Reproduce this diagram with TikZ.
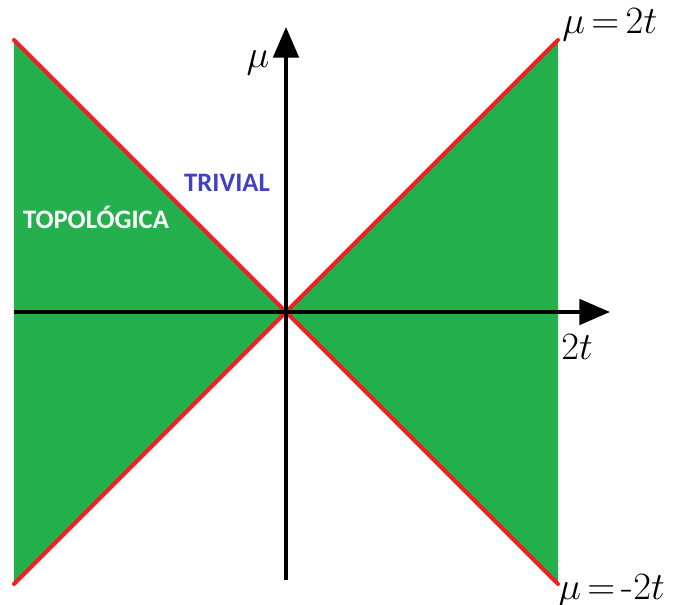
\RequirePackage{fix-cm}
\documentclass[tikz,border=0pt]{standalone}
\usepackage{fontspec}
\newfontfamily\labelfont{Carlito}
\usetikzlibrary{arrows.meta}
\definecolor{fasegreen}{RGB}{36,176,76}
\definecolor{bordered}{RGB}{238,32,36}
\definecolor{trivblue}{RGB}{64,64,200}
\begin{document}
\begin{tikzpicture}[
    x=0.75pt, y=0.75pt,
    every node/.style={font=\fontsize{29}{32}\selectfont},
    axisline/.style={line width=3pt, -{Triangle[length=23pt, width=19pt]}},
    phasefill/.style={fill=fasegreen},
    borderline/.style={bordered, line width=3pt, line cap=round},
    phaselabel/.style={font=\labelfont\bfseries\fontsize{20}{22}\selectfont}
]
\def\L{272}
\useasboundingbox (-286,-293) rectangle (388,312);

% regiones topologicas
\foreach \s in {-1,1}{
  \fill[phasefill] (0,0) -- (\s*\L,\L) -- (\s*\L,-\L) -- cycle;
}
\coordinate (ul) at (-\L,\L);
\coordinate (ur) at (\L,\L);
\coordinate (ll) at (-\L,-\L);
\coordinate (lr) at (\L,-\L);
\draw[borderline] (ul) -- (lr);
\draw[borderline] (ll) -- (ur);

% ejes
\coordinate (xstart) at (-\L,0);
\coordinate (xend) at (324,0);
\coordinate (ystart) at (0,-268);
\coordinate (yend) at (0,285);
\draw[axisline] (xstart) -- (xend);
\draw[axisline] (ystart) -- (yend);

\node (mulabel) at (-28,249) {$\mu$};
\node (tlabel) at (291,-35) {$2t$};
\node[anchor=south west, inner sep=0pt] (upper) at (276,271) {$\mu\,{=}\,2t$};
\node[anchor=north west, inner sep=0pt] (lower) at (272,-262) {$\mu\,{=}\,$-$2t$};

\node[phaselabel, trivblue] (trivial) at (-59,129) {TRIVIAL};
\node[phaselabel, white] (topo) at (-190,95) {TOPOLÓGICA};
\end{tikzpicture}
\end{document}
